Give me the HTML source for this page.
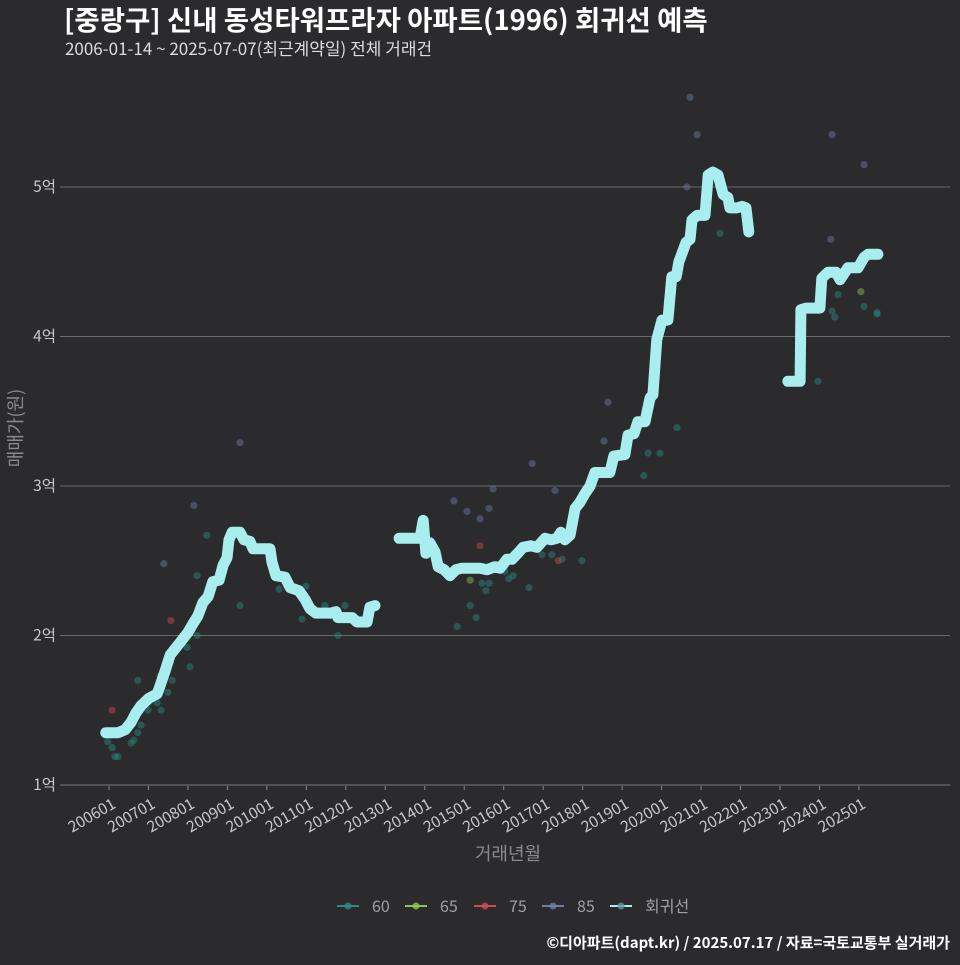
<!DOCTYPE html>
<html><head><meta charset="utf-8">
<style>
html,body{margin:0;padding:0;background:#2b2b2d;}
body{width:960px;height:960px;overflow:hidden;font-family:"Noto Sans CJK KR","Liberation Sans",sans-serif;}
svg text{font-family:"Noto Sans CJK KR","Liberation Sans",sans-serif;}
</style></head>
<body>
<svg id="chart" width="960" height="960" xmlns="http://www.w3.org/2000/svg">
<rect width="960" height="960" fill="#2b2b2d"/>
<text x="64" y="30" fill="#ffffff" font-size="27.5" font-weight="bold">[중랑구] 신내 동성타워프라자 아파트(1996) 회귀선 예측</text>
<text x="65" y="55" fill="#dddddd" font-size="17">2006-01-14 ~ 2025-07-07(최근계약일) 전체 거래건</text>
<g id="grid"></g>
<g id="points"></g>
<g id="lines"></g>
<g id="axes"></g>
<text x="508" y="860" fill="#8a8a8a" font-size="18" text-anchor="middle">거래년월</text>
<text transform="translate(22,428) rotate(-90)" fill="#8a8a8a" font-size="18" text-anchor="middle">매매가(원)</text>
<g id="legend"></g>
<text x="950" y="948" fill="#ffffff" font-size="15" font-weight="bold" text-anchor="end">©디아파트(dapt.kr) / 2025.07.17 / 자료=국토교통부 실거래가</text>
</svg>
<script>
// regression line segments: t = decimal year, v = price in 억
const lineT1 = [2005.92,2006.23,2006.41,2006.56,2006.68,2006.81,2007.01,2007.22,2007.29,2007.42,2007.55,2007.70,2007.85,2008.00,2008.13,2008.25,2008.38,2008.51,2008.63,2008.79,2008.89,2008.99,2009.04,2009.12,2009.32,2009.42,2009.57,2009.65,2010.08,2010.13,2010.23,2010.46,2010.59,2010.81,2010.97,2011.09,2011.24,2011.62,2011.75,2011.80,2012.16,2012.28,2012.54,2012.61,2012.74];
const lineV1 = [1.35,1.35,1.37,1.42,1.48,1.53,1.58,1.61,1.66,1.76,1.87,1.92,1.97,2.02,2.08,2.13,2.22,2.26,2.36,2.37,2.47,2.52,2.64,2.69,2.69,2.64,2.63,2.58,2.58,2.49,2.40,2.39,2.32,2.30,2.24,2.18,2.15,2.15,2.16,2.12,2.12,2.09,2.09,2.19,2.20];
const lineT2 = [2013.35,2013.88,2013.96,2014.03,2014.13,2014.26,2014.34,2014.49,2014.64,2014.79,2014.94,2015.40,2015.58,2015.78,2015.91,2016.08,2016.21,2016.39,2016.49,2016.69,2016.84,2017.05,2017.20,2017.35,2017.45,2017.55,2017.68,2017.81,2017.93,2018.06,2018.19,2018.31,2018.69,2018.79,2019.07,2019.15,2019.30,2019.40,2019.58,2019.71,2019.78,2019.88,2020.01,2020.16,2020.26,2020.37,2020.44,2020.62,2020.72,2020.77,2020.90,2021.10,2021.18,2021.30,2021.43,2021.56,2021.68,2021.73,2021.91,2022.04,2022.14,2022.21];
const lineV2 = [2.65,2.65,2.77,2.55,2.62,2.56,2.46,2.44,2.40,2.44,2.45,2.45,2.44,2.46,2.45,2.51,2.51,2.56,2.59,2.60,2.59,2.65,2.64,2.65,2.69,2.64,2.67,2.85,2.89,2.95,3.00,3.09,3.09,3.20,3.21,3.34,3.35,3.43,3.43,3.59,3.61,3.98,4.11,4.11,4.40,4.40,4.50,4.63,4.65,4.78,4.81,4.81,5.08,5.10,5.08,4.95,4.93,4.86,4.86,4.87,4.86,4.70];
const lineT3 = [2023.20,2023.51,2023.53,2023.66,2024.01,2024.06,2024.22,2024.42,2024.52,2024.72,2024.98,2025.13,2025.23,2025.48];
const lineV3 = [3.70,3.70,4.18,4.19,4.19,4.39,4.43,4.43,4.38,4.46,4.46,4.53,4.55,4.55];
// scatter: size 60
const p60T = [2005.97,2006.08,2006.15,2006.23,2006.56,2006.63,2006.73,2006.81,2006.99,2007.32,2007.22,2007.49,2006.73,2007.29,2007.60,2008.05,2007.98,2008.23,2008.23,2008.48,2009.32,2010.31,2010.99,2010.89,2011.47,2011.80,2011.98,2014.82,2015.15,2015.30,2015.45,2015.63,2015.55,2016.03,2016.13,2016.24,2016.64,2016.97,2017.22,2017.48,2017.98,2019.55,2019.66,2019.96,2020.39,2021.48,2023.96,2024.47,2024.32,2024.39,2025.13,2025.46,2025.46];
const p60V = [1.29,1.25,1.19,1.19,1.28,1.30,1.35,1.40,1.50,1.50,1.55,1.62,1.70,1.73,1.70,1.79,1.92,2.00,2.40,2.67,2.20,2.31,2.33,2.11,2.20,2.00,2.20,2.06,2.20,2.12,2.35,2.35,2.30,2.43,2.38,2.40,2.32,2.54,2.54,2.51,2.50,3.07,3.22,3.22,3.39,4.69,3.70,4.28,4.17,4.13,4.20,4.16,4.15];
const p65T = [2015.15,2025.05];
const p65V = [2.37,4.30];
const p75T = [2006.08,2007.57,2015.40,2017.38];
const p75V = [1.50,2.10,2.60,2.50];
const p85T = [2020.72,2020.90,2020.64,2024.32,2025.13,2024.29,2018.64,2018.54,2009.32,2008.15,2007.39,2014.74,2015.07,2015.40,2015.63,2015.73,2016.72,2017.30];
const p85V = [5.60,5.35,5.00,5.35,5.15,4.65,3.56,3.30,3.29,2.87,2.48,2.90,2.83,2.78,2.85,2.98,3.15,2.97];
const yTicks = [1,2,3,4,5];
const yTickLabels = ["1억","2억","3억","4억","5억"];
const xTicks = [2006,2007,2008,2009,2010,2011,2012,2013,2014,2015,2016,2017,2018,2019,2020,2021,2022,2023,2024,2025];
const xTickLabels = ["200601","200701","200801","200901","201001","201101","201201","201301","201401","201501","201601","201701","201801","201901","202001","202101","202201","202301","202401","202501"];
const legendLabels = ["60","65","75","85","회귀선"];

const NS = "http://www.w3.org/2000/svg";
function X(t){ return 109 + (t - 2006) * 39.47; }
function Y(v){ return 785 - (v - 1) * 149.5; }
function mk(tag, attrs, parent){
  const e = document.createElementNS(NS, tag);
  for (const k in attrs) e.setAttribute(k, attrs[k]);
  parent.appendChild(e);
  return e;
}
const grid = document.getElementById('grid');
const axes = document.getElementById('axes');
yTicks.forEach((v,i)=>{
  const l = mk('line',{x1:60,x2:950,y1:Y(v),y2:Y(v),stroke:i===0?'#7a7a7a':'#6a6a6a','stroke-width':1},grid);
  
  
  const t = mk('text',{x:56,y:Y(v)+5,fill:'#c8c8c8','font-size':15.5,'text-anchor':'end'},axes);
  t.textContent = yTickLabels[i];
  
  
});
xTicks.forEach((t,i)=>{
  const x = X(t);
  const tk = mk('line',{x1:x,x2:x,y1:786,y2:790,stroke:'#8a8a8a','stroke-width':1},axes);
  
  
  const tx = mk('text',{transform:`translate(${x+2},${797}) rotate(-30)`,fill:'#c8c8c8','font-size':15.5,'text-anchor':'end'},axes);
  tx.textContent = xTickLabels[i];
  tx.setAttribute('dy','0.75em');
  
  
});
const pts = document.getElementById('points');
function drawPts(T,V,color,name){
  T.forEach((t,i)=>{
    const c = mk('circle',{cx:X(t),cy:Y(V[i]),r:3.6,fill:color,'fill-opacity':0.45},pts);
    
    
  });
}
drawPts(p85T,p85V,'#6f7ea6','point-85');
drawPts(p60T,p60V,'#2a8c82','point-60');
drawPts(p65T,p65V,'#8cc850','point-65');
drawPts(p75T,p75V,'#d04a50','point-75');
const lines = document.getElementById('lines');
[[lineT1,lineV1],[lineT2,lineV2],[lineT3,lineV3]].forEach(([T,V],si)=>{
  const d = T.map((t,i)=>(i?'L':'M')+X(t).toFixed(1)+' '+Y(V[i]).toFixed(1)).join(' ');
  const p = mk('path',{d:d,fill:'none',stroke:'#a9eeee','stroke-width':11,'stroke-linecap':'round','stroke-linejoin':'round'},lines);
  
  
});
const legend = document.getElementById('legend');
const legColors = ['#2a8c82','#8cc850','#d04a50','#6f7ea6','#a9eeee'];
const legX = [337,405,474,542,610];
legendLabels.forEach((lab,i)=>{
  const g = mk('g',{},legend);
  
  
  mk('line',{x1:legX[i],x2:legX[i]+22,y1:906,y2:906,stroke:legColors[i],'stroke-width':2},g);
  mk('circle',{cx:legX[i]+11,cy:906,r:3.5,fill:i===4?'#5a9a9a':legColors[i],'fill-opacity':0.8},g);
  const t = mk('text',{x:legX[i]+35,y:912,fill:'#a0a0a0','font-size':16},g);
  t.textContent = lab;
});
</script>
</body></html>
